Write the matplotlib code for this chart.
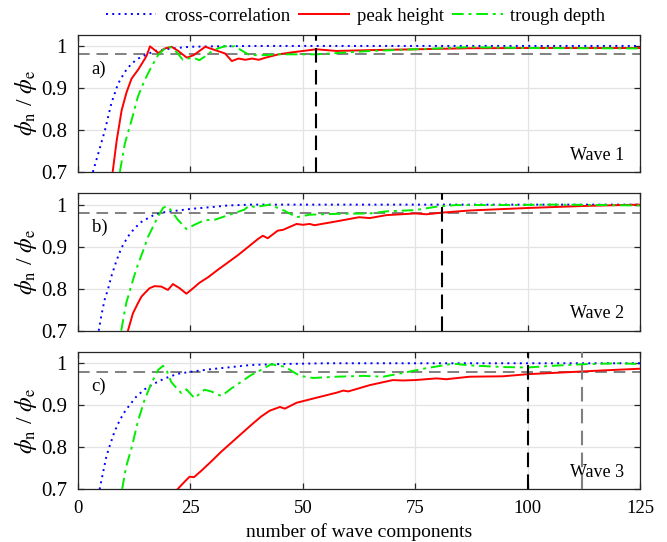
import matplotlib
matplotlib.use("Agg")
import matplotlib.pyplot as plt

plt.rcParams['font.family'] = ['Liberation Serif', 'DejaVu Serif']
plt.rcParams['mathtext.fontset'] = 'stix'

# ---------------- data ----------------
# Wave 1
w1_cc_x = [3.3, 4.5, 6, 7.4, 8.9, 10.4, 11.9, 13.4, 14.9, 17.1, 20.8, 25, 30, 40, 60, 125]
w1_cc_y = [0.7, 0.744, 0.80, 0.863, 0.91, 0.938, 0.958, 0.97, 0.978, 0.988, 0.994, 0.998, 0.999, 1.0, 1.0, 1.0]
w1_pk_x = [7.7, 8.6, 9.7, 10.8, 11.9, 13.4, 14.9, 15.3, 16, 17.9, 19.3, 20.8, 22.3, 24.2, 25.7, 28.3,
           30.5, 32.7, 34.2, 35.7, 37.2, 38.7, 40.2, 41.7, 44.6, 47.1, 50, 53, 57.5, 64.9, 75, 87, 100, 125]
w1_pk_y = [0.7, 0.775, 0.847, 0.89, 0.922, 0.944, 0.97, 0.978, 0.999, 0.983, 0.994, 0.998, 0.988, 0.972,
           0.978, 0.998, 0.99, 0.982, 0.964, 0.97, 0.967, 0.97, 0.967, 0.972, 0.98, 0.984, 0.988, 0.992,
           0.988, 0.99, 0.992, 0.9945, 0.995, 0.995]
w1_tr_x = [9.3, 10.4, 11.9, 13.3, 14.8, 16.3, 17.8, 18.9, 20, 21.1, 22.2, 23.3, 24.4, 25.6, 27, 28.1,
           29.6, 31.1, 32.6, 34.8, 36.3, 37.8, 39.3, 41.5, 44.4, 53, 65, 75, 87, 100, 125]
w1_tr_y = [0.7, 0.767, 0.823, 0.879, 0.918, 0.95, 0.978, 0.99, 0.999, 0.994, 0.982, 0.967, 0.97, 0.972,
           0.966, 0.974, 0.986, 0.994, 0.999, 0.999, 0.99, 0.98, 0.978, 0.978, 0.98, 0.98, 0.988, 0.992,
           0.997, 0.995, 0.994]

# Wave 2
w2_cc_x = [4.6, 5.2, 5.9, 6.7, 7.4, 8.5, 9.6, 11.1, 12.6, 14.1, 15.6, 17, 19.3, 22.2, 25.2, 29.6, 33.3, 38.5, 60, 125]
w2_cc_y = [0.7, 0.737, 0.773, 0.80, 0.829, 0.865, 0.896, 0.924, 0.944, 0.959, 0.968, 0.976, 0.982, 0.986,
           0.99, 0.994, 0.998, 1.0, 1.0, 1.0]
w2_pk_x = [11.1, 12.2, 13.3, 14.1, 14.8, 15.9, 17, 18.5, 20, 21.1, 22.6, 24.1, 25.6, 27, 28.9, 31.1, 33.3,
           35.6, 37.8, 40, 41.1, 42.2, 44.4, 45.6, 48.6, 50, 51.5, 52.6, 57.4, 62.5, 64.9, 68.6, 75, 77.5,
           81, 87.1, 100, 113, 125]
w2_pk_y = [0.7, 0.741, 0.765, 0.781, 0.789, 0.801, 0.806, 0.805, 0.797, 0.811, 0.801, 0.788, 0.801, 0.814,
           0.827, 0.845, 0.862, 0.88, 0.899, 0.918, 0.926, 0.92, 0.938, 0.940, 0.954, 0.952, 0.954, 0.951,
           0.96, 0.97, 0.968, 0.975, 0.979, 0.977, 0.981, 0.986, 0.992, 0.997, 1.0]
w2_tr_x = [9.6, 10.7, 12.2, 13.3, 14.4, 15.6, 16.7, 17.8, 18.9, 19.6, 20.4, 22.2, 24.1, 25.9, 28.1, 30.4,
           32.6, 34.8, 37, 38.1, 39.3, 41.5, 43, 44.4, 46, 48.6, 51.5, 57.4, 64.9, 68.6, 75, 79.7, 84.1,
           94.6, 105.7, 116.8, 125]
w2_tr_y = [0.7, 0.765, 0.82, 0.857, 0.888, 0.924, 0.948, 0.972, 0.992, 0.996, 0.99, 0.964, 0.942, 0.952,
           0.963, 0.964, 0.972, 0.98, 0.988, 0.998, 0.994, 0.998, 1.0, 0.992, 0.985, 0.970, 0.976, 0.978,
           0.979, 0.984, 0.987, 0.995, 0.999, 0.999, 1.0, 0.999, 0.998]

# Wave 3
w3_cc_x = [4.8, 5.6, 6.3, 7, 8.1, 9.3, 10.4, 11.5, 13, 14.8, 17, 19.3, 22.2, 25.2, 29.6, 33.3, 38.5, 44.4, 55, 125]
w3_cc_y = [0.7, 0.742, 0.778, 0.802, 0.837, 0.865, 0.885, 0.901, 0.921, 0.938, 0.952, 0.964, 0.975, 0.98,
           0.986, 0.99, 0.996, 0.998, 1.0, 1.0]
w3_pk_x = [22.1, 23.7, 24.8, 25.8, 27.4, 29.6, 31.9, 34.1, 36.3, 38.5, 40.7, 42.6, 44.9, 46, 48.6, 52.3,
           57.5, 59, 60.1, 64.9, 70, 72.3, 75, 79.7, 81.9, 87.1, 94.5, 100, 109.4, 116.8, 125]
w3_pk_y = [0.7, 0.718, 0.73, 0.729, 0.744, 0.766, 0.79, 0.811, 0.832, 0.853, 0.873, 0.887, 0.896, 0.892,
           0.906, 0.916, 0.93, 0.935, 0.933, 0.948, 0.96, 0.959, 0.96, 0.964, 0.962, 0.968, 0.969, 0.974,
           0.979, 0.983, 0.987]
w3_tr_x = [9.8, 10.7, 11.9, 13.3, 14.8, 16.3, 17.8, 18.9, 19.6, 20.7, 22.2, 23, 24.1, 25.9, 28.1, 29.6,
           31.9, 34.1, 36.3, 38.5, 40.7, 43, 44.5, 46, 49.3, 52.3, 57.5, 63.4, 67.9, 72.3, 76.8, 83.4, 87.1,
           94.5, 100, 105.6, 113, 120.4, 125]
w3_tr_y = [0.7, 0.754, 0.798, 0.861, 0.913, 0.952, 0.984, 0.994, 0.986, 0.956, 0.937, 0.929, 0.938, 0.917,
           0.937, 0.933, 0.922, 0.94, 0.956, 0.972, 0.984, 0.998, 0.994, 0.992, 0.97, 0.965, 0.968, 0.97,
           0.968, 0.977, 0.987, 0.999, 0.995, 0.991, 0.99, 0.994, 0.998, 1.0, 0.998]

threshold = 0.98
panel_labels = ["a)", "b)", "c)"]
wave_labels = ["Wave 1", "Wave 2", "Wave 3"]
black_marks = [53, 81, 100]
gray_marks = [None, None, 112]
series_names = ["cross-correlation", "peak height", "trough depth"]
xticks = [0, 25, 50, 75, 100, 125]
yticks = [0.7, 0.8, 0.9, 1.0]
ytick_labels = ["0.7", "0.8", "0.9", "1"]

panels = [
    (w1_cc_x, w1_cc_y, w1_pk_x, w1_pk_y, w1_tr_x, w1_tr_y),
    (w2_cc_x, w2_cc_y, w2_pk_x, w2_pk_y, w2_tr_x, w2_tr_y),
    (w3_cc_x, w3_cc_y, w3_pk_x, w3_pk_y, w3_tr_x, w3_tr_y),
]

# ---------------- figure ----------------
fig = plt.figure(figsize=(6.67, 5.42), dpi=100)
left, width, height = 0.117, 0.8426, 0.2535
bottoms = [0.6827, 0.3899, 0.0972]

handles = None
for i, (cx, cy, px, py, tx, ty) in enumerate(panels):
    ax = fig.add_axes([left, bottoms[i], width, height])
    ax.set_xlim(0, 125)
    ax.set_ylim(0.7, 1.027)
    ax.grid(True, color='#e3e3e3', linewidth=0.9)
    ax.set_axisbelow(True)
    ax.axhline(threshold, color='#808080', linewidth=1.4, linestyle=(0, (6, 3.5)), zorder=2)
    h1, = ax.plot(cx, cy, color='#0000ff', linewidth=1.4, linestyle=(0, (1, 2.2)), zorder=3)
    h2, = ax.plot(px, py, color='#ff0000', linewidth=1.4, linestyle='-', zorder=3)
    h3, = ax.plot(tx, ty, color='#00ee00', linewidth=1.4, linestyle=(0, (6, 2.5, 1.5, 2.5)), zorder=3)
    if handles is None:
        handles = [h1, h2, h3]
    ax.axvline(black_marks[i], color='black', linewidth=1.5, linestyle=(0, (7, 3.5)), zorder=4)
    if gray_marks[i] is not None:
        ax.axvline(gray_marks[i], color='#808080', linewidth=1.5, linestyle=(0, (7, 3.5)), zorder=4)
    ax.set_xticks(xticks)
    ax.set_yticks(yticks)
    ax.set_yticklabels(ytick_labels)
    ax.tick_params(direction='in', top=True, right=True, length=4, width=0.9,
                   color='#262626')
    ax.tick_params(axis='y', labelsize=15, pad=8)
    ax.tick_params(axis='x', labelsize=13.5, pad=8)
    if i < 2:
        ax.set_xticklabels([])
    else:
        ax.set_xlabel("number of wave components", fontsize=14, labelpad=4)
    for sp in ax.spines.values():
        sp.set_color('#262626')
        sp.set_linewidth(0.9)
    ax.set_ylabel(r"$\phi_\mathrm{n}$ / $\phi_\mathrm{e}$", fontsize=17, labelpad=1)
    ax.text(3.0, 0.945, panel_labels[i], fontsize=13.5, ha='left', va='center')
    ax.text(121.5, 0.74, wave_labels[i], fontsize=13, ha='right', va='center')

fig.legend(handles, series_names, loc='center', bbox_to_anchor=(0.533, 0.970), ncol=3,
           frameon=False, fontsize=13.5, handlelength=2.7, columnspacing=0.45, handletextpad=0.4)

fig.savefig("out.png", dpi=100)
